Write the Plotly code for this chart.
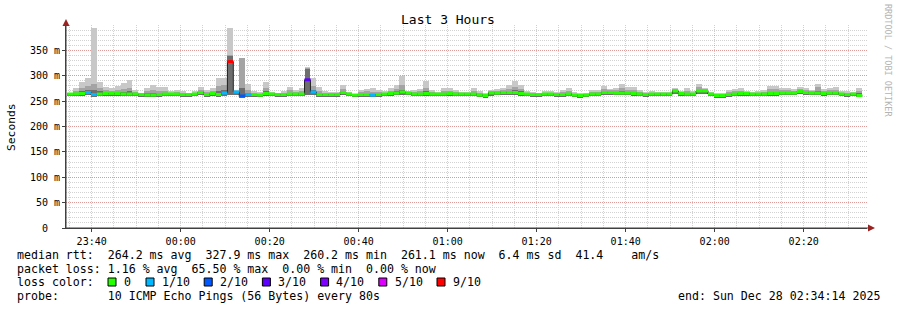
import datetime as dt
import plotly.graph_objects as go

# ---------------- data ----------------
median = [
    264.0, 264.3, 265.0, 267.0, 263.0, 264.0, 265.0, 265.2, 265.0, 264.2,
    264.0, 264.1, 263.0, 262.2, 262.0, 263.0, 264.0, 264.2, 264.0, 263.1,
    263.0, 264.0, 267.0, 263.0, 265.0, 263.0, 266.0, 327.9, 268.0, 260.2,
    263.0, 263.0, 262.0, 265.0, 264.0, 263.0, 263.0, 264.0, 264.0, 264.0,
    292.0, 268.0, 263.0, 263.0, 263.0, 263.0, 267.0, 264.0, 262.0, 263.0,
    263.0, 262.0, 263.0, 264.0, 265.0, 266.0, 268.0, 266.0, 264.0, 264.0,
    265.0, 264.0, 264.0, 264.0, 265.0, 264.0, 264.0, 264.0, 264.0, 262.0,
    261.0, 266.0, 266.0, 267.0, 267.0, 267.0, 265.0, 264.0, 263.0, 263.0,
    264.0, 264.0, 263.0, 263.0, 264.0, 262.0, 261.0, 262.0, 264.0, 264.0,
    267.0, 267.0, 266.0, 266.0, 266.0, 265.0, 264.0, 263.0, 264.0, 264.0,
    264.0, 264.0, 270.0, 265.0, 264.0, 264.0, 270.0, 270.0, 264.0, 261.0,
    261.0, 263.0, 264.0, 265.0, 265.0, 264.0, 264.0, 264.0, 265.0, 265.0,
    266.0, 266.0, 266.0, 269.0, 267.0, 266.0, 266.0, 265.0, 266.0, 266.0,
    264.0, 263.0, 264.0, 261.1,
]
lost_pings = [
    0, 0, 0, 1, 1, 0, 0, 0, 0, 0,
    0, 0, 0, 0, 0, 0, 0, 0, 0, 0,
    0, 0, 0, 0, 0, 0, 1, 9, 1, 2,
    1, 0, 0, 0, 0, 0, 0, 0, 0, 0,
    3, 1, 0, 0, 0, 0, 0, 0, 0, 0,
    0, 1, 0, 0, 0, 0, 0, 0, 0, 0,
    0, 0, 0, 0, 0, 0, 0, 0, 0, 0,
    0, 0, 0, 0, 0, 0, 0, 0, 0, 0,
    0, 0, 0, 0, 0, 0, 0, 0, 0, 0,
    0, 0, 0, 0, 0, 0, 0, 0, 0, 0,
    0, 0, 0, 0, 0, 0, 0, 0, 0, 0,
    0, 0, 0, 0, 0, 0, 0, 0, 0, 0,
    0, 0, 0, 0, 0, 0, 0, 0, 0, 0,
    0, 0, 0, 0,
]
ping_min = [
    260, 260, 261, 262, 259, 260, 261, 261, 261, 260,
    260, 260, 259, 258, 258, 259, 260, 260, 260, 259,
    259, 260, 262, 259, 261, 259, 261, 262, 262, 257,
    259, 259, 258, 261, 260, 259, 259, 260, 260, 260,
    262, 262, 259, 259, 259, 259, 262, 260, 258, 259,
    259, 258, 259, 260, 261, 262, 263, 262, 260, 260,
    261, 260, 260, 260, 261, 260, 260, 260, 260, 258,
    257, 261, 262, 262, 262, 262, 261, 260, 259, 259,
    260, 260, 259, 259, 260, 258, 257, 258, 260, 260,
    262, 262, 262, 262, 262, 261, 260, 259, 260, 260,
    260, 260, 264, 261, 260, 260, 264, 264, 260, 257,
    257, 259, 260, 261, 261, 260, 260, 260, 261, 261,
    262, 262, 262, 264, 263, 262, 262, 261, 262, 262,
    260, 259, 260, 259,
]
ping_p8 = [
    265, 267, 269, 271, 272, 269, 267, 267, 268, 268,
    269, 266, 264, 266, 266, 266, 267, 265, 266, 265,
    264, 265, 269, 265, 267, 270, 271, 338, 269, 275,
    266, 265, 264, 270, 265, 264, 265, 266, 266, 266,
    313, 272, 266, 265, 265, 265, 270, 265, 263, 265,
    265, 264, 265, 265, 267, 269, 272, 267, 266, 266,
    269, 266, 265, 267, 267, 266, 265, 265, 266, 264,
    263, 268, 268, 269, 270, 271, 269, 265, 264, 264,
    265, 265, 264, 265, 266, 264, 262, 263, 265, 265,
    270, 269, 268, 270, 268, 268, 266, 264, 265, 265,
    265, 265, 272, 266, 266, 265, 272, 272, 265, 262,
    262, 265, 266, 267, 266, 265, 265, 266, 268, 268,
    268, 268, 268, 271, 269, 267, 270, 267, 268, 268,
    265, 265, 265, 266,
]
ping_p9 = [
    266, 270, 276, 280, 284, 276, 271, 270, 272, 274,
    276, 268, 265, 269, 271, 270, 270, 267, 268, 267,
    265, 267, 272, 268, 270, 280, 282, 341, 270, 334,
    272, 267, 265, 276, 266, 265, 267, 271, 268, 270,
    316, 280, 270, 267, 266, 266, 274, 266, 264, 268,
    269, 268, 268, 267, 270, 274, 282, 268, 268, 269,
    276, 268, 266, 270, 270, 268, 266, 266, 270, 266,
    264, 269, 270, 271, 274, 278, 274, 267, 266, 265,
    267, 267, 266, 268, 270, 265, 264, 264, 268, 268,
    274, 271, 271, 276, 272, 272, 268, 266, 267, 266,
    266, 266, 273, 267, 270, 267, 277, 273, 266, 264,
    264, 268, 269, 270, 268, 266, 267, 268, 273, 273,
    271, 271, 270, 273, 271, 269, 277, 270, 271, 272,
    267, 267, 266, 270,
]
ping_max = [
    267, 275, 288, 296, 395, 288, 277, 275, 280, 285,
    291, 272, 266, 276, 281, 277, 277, 270, 271, 270,
    266, 269, 278, 272, 275, 295, 296, 395, 272, 335,
    283, 270, 268, 288, 268, 266, 270, 278, 272, 276,
    318, 295, 277, 270, 268, 268, 281, 268, 265, 272,
    274, 275, 272, 270, 276, 281, 300, 270, 272, 274,
    289, 272, 268, 276, 276, 272, 268, 268, 275, 270,
    266, 272, 274, 276, 281, 289, 281, 270, 268, 266,
    270, 270, 268, 272, 276, 268, 266, 266, 272, 272,
    280, 274, 276, 283, 278, 278, 272, 268, 270, 268,
    268, 268, 276, 270, 276, 270, 283, 276, 268, 266,
    266, 272, 274, 275, 270, 268, 270, 272, 280, 280,
    276, 276, 274, 278, 275, 272, 283, 274, 276, 278,
    270, 270, 268, 276,
]

loss_labels = ["0", "1/10", "2/10", "3/10", "4/10", "5/10", "9/10"]
loss_thresholds = [0, 1, 2, 3, 4, 5, 9]
loss_colors = ["#26ff00", "#00b8ff", "#0059ff", "#5e00ff", "#7e00ff", "#dd00ff", "#ff0000"]

y_tick_vals = [0, 50, 100, 150, 200, 250, 300, 350]
y_tick_text = ["0\u00a0\u00a0", "50 m", "100 m", "150 m", "200 m", "250 m", "300 m", "350 m"]

legend_rtt = "median rtt:  264.2 ms avg  327.9 ms max  260.2 ms min  261.1 ms now  6.4 ms sd  41.4    am/s"
legend_loss = "packet loss: 1.16 % avg  65.50 % max  0.00 % min  0.00 % now"
legend_color = "loss color:"
legend_probe = "probe:       10 ICMP Echo Pings (56 Bytes) every 80s"
legend_end = "end: Sun Dec 28 02:34:14 2025"
title_text = "Last 3 Hours"

step_s = 80
t_first = dt.datetime(2025, 12, 27, 23, 34, 30)
x_start = dt.datetime(2025, 12, 27, 23, 34, 14)
x_end = dt.datetime(2025, 12, 28, 2, 34, 14)

# ---------------- geometry ----------------
W, H = 897, 310
L, R, T, B = 66, 30, 25, 82
PW, PH = W - L - R, H - T - B
MONO = "DejaVu Sans Mono"


def px_x(px):
    return (px - L) / PW


def px_y(py):
    return (H - B - py) / PH


def nb(s):
    return s.replace(" ", "\u00a0")


n = len(median)
starts = [t_first + dt.timedelta(seconds=step_s * i) for i in range(n)]
ends = [s + dt.timedelta(seconds=step_s) for s in starts]
centers = [s + dt.timedelta(seconds=step_s / 2) for s in starts]

fig = go.Figure()

# smoke: outer (min..max), middle, inner
for top, col in [(ping_max, "#c8c8c8"), (ping_p9, "#a4a4a4"), (ping_p8, "#6e6e6e")]:
    fig.add_trace(go.Bar(
        x=centers, base=ping_min, y=[t - b for t, b in zip(top, ping_min)],
        width=step_s * 1000, marker=dict(color=col, line=dict(width=0)),
        hoverinfo="skip"))

# thin dark median (shows the vertical jumps)
fig.add_trace(go.Scatter(
    x=starts + [ends[-1]], y=median + [median[-1]], mode="lines",
    line=dict(color="#202020", width=1, shape="hv"), hoverinfo="skip"))


def color_index(lost):
    idx = 0
    for j, th in enumerate(loss_thresholds):
        if lost >= th:
            idx = j
    return idx


for ci, col in enumerate(loss_colors):
    xs, ys = [], []
    for i in range(n):
        if color_index(lost_pings[i]) == ci:
            xs += [starts[i], ends[i], None]
            ys += [median[i], median[i], None]
    if xs:
        fig.add_trace(go.Scatter(x=xs, y=ys, mode="lines",
                                 line=dict(color=col, width=3),
                                 connectgaps=False, hoverinfo="skip"))

major_grid = "rgba(255,0,0,0.27)"
minor_grid = "#d2d2d2"
axis_col = "#404040"

fig.update_xaxes(
    type="date", range=[x_start, x_end], tickmode="linear",
    tick0="2025-12-27 23:40:00", dtick=20 * 60 * 1000, tickformat="%H:%M",
    showgrid=True, gridcolor=major_grid, griddash="1px,1px", gridwidth=1,
    minor=dict(tick0="2025-12-27 23:40:00", dtick=5 * 60 * 1000, showgrid=True,
               gridcolor=minor_grid, griddash="1px,1px", gridwidth=1),
    showline=True, linecolor=axis_col, linewidth=1, zeroline=False,
    ticks="outside", ticklen=3, tickcolor=axis_col, ticklabelstandoff=1,
    tickfont=dict(family=MONO, size=10, color="black"), fixedrange=True)

fig.update_yaxes(
    range=[0, 400], tickmode="array", tickvals=y_tick_vals, ticktext=y_tick_text,
    showgrid=True, gridcolor=major_grid, griddash="1px,1px", gridwidth=1,
    minor=dict(tickmode="linear", tick0=0, dtick=10, showgrid=True,
               gridcolor=minor_grid, griddash="1px,1px", gridwidth=1),
    showline=True, linecolor=axis_col, linewidth=1, zeroline=False,
    ticks="outside", ticklen=3, tickcolor=axis_col,
    tickfont=dict(family=MONO, size=10, color="black"), fixedrange=True)

shapes = []
arrow_col = "#992222"
# axis extensions and arrows
shapes.append(dict(type="line", xref="paper", yref="paper",
                   x0=px_x(L), x1=px_x(869), y0=px_y(228), y1=px_y(228),
                   line=dict(color=axis_col, width=1)))
shapes.append(dict(type="path", xref="paper", yref="paper",
                   path=f"M {px_x(868)} {px_y(224.5)} L {px_x(875)} {px_y(228)} L {px_x(868)} {px_y(231.5)} Z",
                   fillcolor=arrow_col, line=dict(color=arrow_col, width=0)))
shapes.append(dict(type="line", xref="paper", yref="paper",
                   x0=px_x(66), x1=px_x(66), y0=px_y(228), y1=px_y(22),
                   line=dict(color=axis_col, width=1)))
shapes.append(dict(type="path", xref="paper", yref="paper",
                   path=f"M {px_x(62.5)} {px_y(26)} L {px_x(66)} {px_y(19)} L {px_x(69.5)} {px_y(26)} Z",
                   fillcolor=arrow_col, line=dict(color=arrow_col, width=0)))

annotations = []


def text_at(txt, x, y, size=11.6, anchor="left", color="black", angle=0):
    annotations.append(dict(text=nb(txt), x=px_x(x), y=px_y(y), xref="paper", yref="paper",
                            xanchor=anchor, yanchor="middle", showarrow=False,
                            textangle=angle, borderpad=0,
                            font=dict(family=MONO, size=size, color=color)))


text_at(title_text, 448, 20, size=13, anchor="center")
text_at("Seconds", 11, 127, size=11.3, anchor="center", angle=-90)
text_at("RRDTOOL / TOBI OETIKER", 888, 60, size=8.5, anchor="center", color="#b4b4b4", angle=90)

text_at(legend_rtt, 16, 255)
text_at(legend_loss, 16, 268.5)
text_at(legend_color, 16, 282)
text_at(legend_probe, 16, 295.5)
text_at(legend_end, 881, 295.5, anchor="right")

for i, (lab, col) in enumerate(zip(loss_labels, loss_colors)):
    if i == 0:
        bx, tx = 108, 123
    else:
        bx, tx = 146 + 58.2 * (i - 1), 160.7 + 58.2 * (i - 1)
    shapes.append(dict(type="rect", xref="paper", yref="paper",
                       x0=px_x(bx), x1=px_x(bx + 8), y0=px_y(278), y1=px_y(286),
                       fillcolor=col, line=dict(color="black", width=1)))
    text_at(lab, tx, 282)

fig.update_layout(
    width=W, height=H, margin=dict(l=L, r=R, t=T, b=B),
    paper_bgcolor="white", plot_bgcolor="white",
    barmode="overlay", bargap=0, showlegend=False,
    shapes=shapes, annotations=annotations,
    font=dict(family=MONO, size=10, color="black"))

fig.write_html("out.html")
